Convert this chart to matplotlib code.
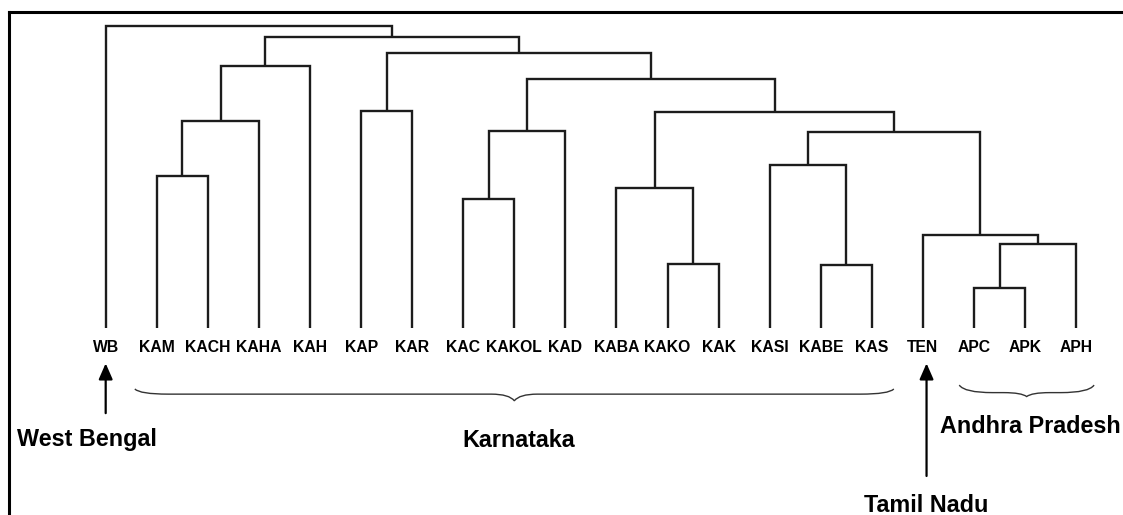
import numpy as np
import matplotlib
matplotlib.use('Agg')
from matplotlib import pyplot as plt
from matplotlib.path import Path
from matplotlib.patches import PathPatch
from matplotlib.lines import Line2D

# leaf labels, left to right
leaves = ['WB', 'KAM', 'KACH', 'KAHA', 'KAH', 'KAP', 'KAR', 'KAC', 'KAKOL', 'KAD',
          'KABA', 'KAKO', 'KAK', 'KASI', 'KABE', 'KAS', 'TEN', 'APC', 'APK', 'APH']

# merges (linkage style): new cluster ids start at len(leaves)
merge_a = [17, 14, 11, 20, 16, 7, 10, 1, 13, 28, 25, 27, 26, 5, 30, 31, 33, 35, 0]
merge_b = [18, 15, 12, 19, 23, 8, 22, 2, 21, 24, 9, 3, 29, 6, 32, 4, 34, 36, 37]
merge_h = [13.1, 21.0, 21.1, 27.8, 30.8, 42.7, 46.3, 50.4, 54.0, 65.0,
           65.2, 68.5, 71.4, 72.0, 82.5, 86.8, 91.0, 96.5, 100.0]

# regional groups (leaf ranges)
regions = ['West Bengal', 'Karnataka', 'Tamil Nadu', 'Andhra Pradesh']
region_first = [0, 1, 16, 17]
region_last = [0, 15, 16, 19]

fig = plt.figure(figsize=(11.23, 5.15), dpi=100)
ax = fig.add_axes([0, 0, 1, 1])
ax.set_xlim(-2.069, 19.916)
ax.set_ylim(-61.92, 108.6)
ax.axis('off')

lc = '#1c1c1c'
lw = 1.7

# position / height of every node
pos = {i: float(i) for i in range(len(leaves))}
hgt = {i: 0.0 for i in range(len(leaves))}
for k in range(len(merge_h)):
    a, b, h = merge_a[k], merge_b[k], merge_h[k]
    ax.plot([pos[a], pos[a], pos[b], pos[b]], [hgt[a], h, h, hgt[b]],
            color=lc, lw=lw, solid_capstyle='butt', solid_joinstyle='miter')
    nid = len(leaves) + k
    pos[nid] = (pos[a] + pos[b]) / 2
    hgt[nid] = h

fnt = 'Liberation Sans'
for i, name in enumerate(leaves):
    ax.text(i, -7.95, name, ha='center', va='baseline', fontsize=11.3,
            fontweight='bold', family=fnt)


def brace(x0, x1, y_end, y_flat, y_tip):
    xm = (x0 + x1) / 2
    d = 0.65
    t = 0.45
    verts = [(x0, y_end), (x0 + 0.1, y_flat), (x0 + d, y_flat),
             (xm - t, y_flat),
             (xm - 0.1, y_flat), (xm, y_tip),
             (xm + 0.1, y_flat), (xm + t, y_flat),
             (x1 - d, y_flat),
             (x1 - 0.1, y_flat), (x1, y_end)]
    codes = [Path.MOVETO, Path.CURVE3, Path.CURVE3, Path.LINETO,
             Path.CURVE3, Path.CURVE3, Path.CURVE3, Path.CURVE3,
             Path.LINETO, Path.CURVE3, Path.CURVE3]
    ax.add_patch(PathPatch(Path(verts, codes), fill=False, color='#333333', lw=1.0))


def arrow(x, y_tip, y_tail):
    ax.annotate('', xy=(x, y_tip), xytext=(x, y_tail),
                arrowprops=dict(arrowstyle='-|>,head_length=0.8,head_width=0.35',
                                mutation_scale=12, lw=1.6, color='black',
                                shrinkA=0, shrinkB=0))


tfont = dict(fontsize=16.8, fontweight='bold', family=fnt, va='baseline')

# West Bengal
arrow(region_first[0], -11.7, -28.2)
ax.text(-1.742, -39.07, regions[0], ha='left', **tfont)

# Karnataka
brace(region_first[1] - 0.43, region_last[1] + 0.43, -20.2, -21.9, -24.1)
ax.text(8.085, -39.5, regions[1], ha='center', **tfont)

# Tamil Nadu
arrow(region_first[2] + 0.07, -11.7, -49.0)
ax.text(16.07, -60.8, regions[2], ha='center', **tfont)

# Andhra Pradesh
brace(region_first[3] - 0.29, region_last[3] + 0.35, -18.9, -21.4, -22.7)
ax.text(18.095, -34.9, regions[3], ha='center', **tfont)

# frame around the figure (left and top edge visible)
fig.add_artist(Line2D([8.6 / 1123, 8.6 / 1123], [0, 1 - 11.7 / 515], color='black', lw=2.2,
                      transform=fig.transFigure))
fig.add_artist(Line2D([8.6 / 1123, 1], [1 - 11.7 / 515, 1 - 11.7 / 515], color='black', lw=2.2,
                      transform=fig.transFigure))

fig.savefig('out.png', dpi=100)
